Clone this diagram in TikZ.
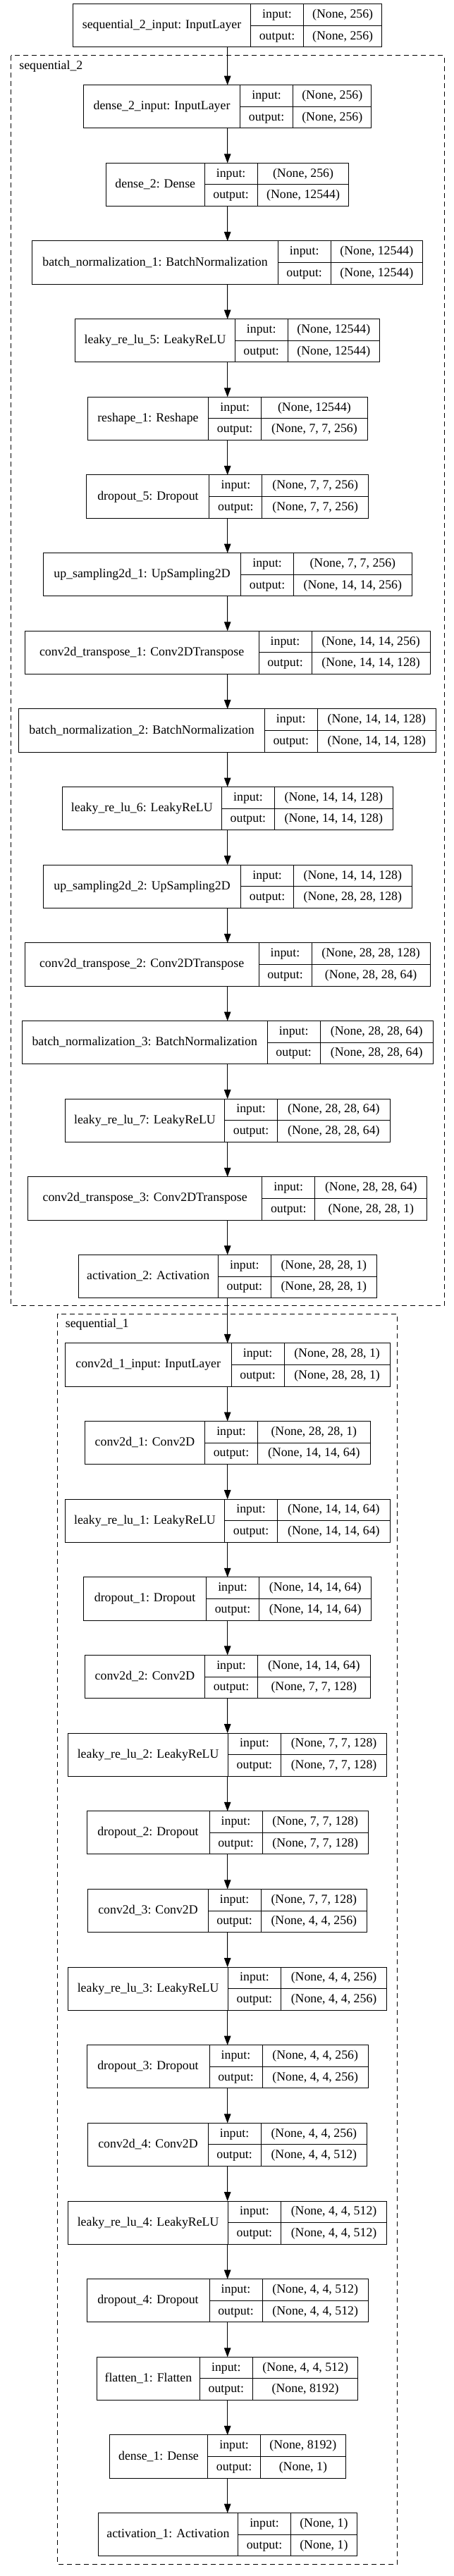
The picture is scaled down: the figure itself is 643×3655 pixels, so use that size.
\documentclass[tikz,border=0pt]{standalone}
\usepackage{fontspec}
\setmainfont{Liberation Serif}
\usetikzlibrary{arrows.meta,fit}

% one keras record: label | input:/output: | shapes
\newcommand\layerbox[8][49.45]{%
  \node[lf, minimum width=#4pt, anchor=north west] (#2-l)
    at ([xshift={-(#4+75+#5)/2}, yshift=-#1pt]#3.south) {#6};
  \node[io, anchor=north west] (#2-i) at (#2-l.north east) {input:};
  \node[io, anchor=north west] (#2-o) at (#2-i.south west) {output:};
  \node[vf, minimum width=#5pt, anchor=north west] (#2-iv) at (#2-i.north east) {#7};
  \node[vf, minimum width=#5pt, anchor=north west] (#2-ov) at (#2-o.north east) {#8};
  \node[fit=(#2-l)(#2-ov), inner sep=0pt, outer sep=0pt] (#2) {};
}

\begin{document}
\begin{tikzpicture}[x=1pt,y=-1pt,
    font=\fontsize{17.8}{20}\selectfont,
    cell/.style={draw,line width=1pt,outer sep=0pt,inner sep=0pt,
                 text height=12.5pt,text depth=3.5pt},
    lf/.style={cell,minimum height=61.2pt},
    io/.style={cell,minimum width=75pt,minimum height=30.6pt},
    vf/.style={cell,minimum height=30.6pt},
    arr/.style={line width=1pt,-{Triangle[length=13pt,width=9.5pt]}},
    clu/.style={line width=1pt,dash pattern=on 7pt off 5pt}]
  \useasboundingbox (0,0) rectangle (643,3655);

  % clusters
  \draw[clu] (15.7,78.7) rectangle (630,1852.7);
  \node[anchor=base west,inner sep=0pt] (seq2lab) at (27.2,99) {sequential\_2};
  \draw[clu] (81.6,1864) rectangle (563.5,3638.3);
  \node[anchor=base west,inner sep=0pt] (seq1lab) at (92.7,1883.5) {sequential\_1};

  \coordinate (start) at (322.7,5.7);
  \layerbox[0]{s2in}{start}{251.9}{111.3}{sequential\_2\_input: InputLayer}{(None, 256)}{(None, 256)}
  % generator
  \layerbox[53.8]{d2in}{s2in}{222.2}{111.3}{dense\_2\_input: InputLayer}{(None, 256)}{(None, 256)}
  \layerbox{dense2}{d2in}{139.7}{129.8}{dense\_2: Dense}{(None, 256)}{(None, 12544)}
  \layerbox{bn1}{dense2}{348.3}{130.3}{batch\_normalization\_1: BatchNormalization}{(None, 12544)}{(None, 12544)}
  \layerbox{lrelu5}{bn1}{226.3}{130.3}{leaky\_re\_lu\_5: LeakyReLU}{(None, 12544)}{(None, 12544)}
  \layerbox{resh1}{lrelu5}{171.5}{150.5}{reshape\_1: Reshape}{(None, 12544)}{(None, 7, 7, 256)}
  \layerbox{drop5}{resh1}{174.0}{150.5}{dropout\_5: Dropout}{(None, 7, 7, 256)}{(None, 7, 7, 256)}
  \layerbox{up1}{drop5}{280.3}{167.4}{up\_sampling2d\_1: UpSampling2D}{(None, 7, 7, 256)}{(None, 14, 14, 256)}
  \layerbox{ct1}{up1}{331.8}{168.2}{conv2d\_transpose\_1: Conv2DTranspose}{(None, 14, 14, 256)}{(None, 14, 14, 128)}
  \layerbox{bn2}{ct1}{348.3}{168.2}{batch\_normalization\_2: BatchNormalization}{(None, 14, 14, 128)}{(None, 14, 14, 128)}
  \layerbox{lrelu6}{bn2}{226.3}{167.8}{leaky\_re\_lu\_6: LeakyReLU}{(None, 14, 14, 128)}{(None, 14, 14, 128)}
  \layerbox{up2}{lrelu6}{280.3}{167.4}{up\_sampling2d\_2: UpSampling2D}{(None, 14, 14, 128)}{(None, 28, 28, 128)}
  \layerbox{ct2}{up2}{331.8}{168.2}{conv2d\_transpose\_2: Conv2DTranspose}{(None, 28, 28, 128)}{(None, 28, 28, 64)}
  \layerbox{bn3}{ct2}{348.0}{160.0}{batch\_normalization\_3: BatchNormalization}{(None, 28, 28, 64)}{(None, 28, 28, 64)}
  \layerbox{lrelu7}{bn3}{226.3}{159.5}{leaky\_re\_lu\_7: LeakyReLU}{(None, 28, 28, 64)}{(None, 28, 28, 64)}
  \layerbox{ct3}{lrelu7}{332.2}{159.1}{conv2d\_transpose\_3: Conv2DTranspose}{(None, 28, 28, 64)}{(None, 28, 28, 1)}
  \layerbox{act2}{ct3}{198.3}{150.0}{activation\_2: Activation}{(None, 28, 28, 1)}{(None, 28, 28, 1)}
  % discriminator
  \layerbox[64.2]{c1in}{act2}{235.8}{150.0}{conv2d\_1\_input: InputLayer}{(None, 28, 28, 1)}{(None, 28, 28, 1)}
  \layerbox{conv1}{c1in}{170.2}{159.5}{conv2d\_1: Conv2D}{(None, 28, 28, 1)}{(None, 14, 14, 64)}
  \layerbox{lrelu1}{conv1}{226.3}{159.5}{leaky\_re\_lu\_1: LeakyReLU}{(None, 14, 14, 64)}{(None, 14, 14, 64)}
  \layerbox{drop1}{lrelu1}{174.0}{159.3}{dropout\_1: Dropout}{(None, 14, 14, 64)}{(None, 14, 14, 64)}
  \layerbox{conv2}{drop1}{170.2}{159.5}{conv2d\_2: Conv2D}{(None, 14, 14, 64)}{(None, 7, 7, 128)}
  \layerbox{lrelu2}{conv2}{226.7}{150.2}{leaky\_re\_lu\_2: LeakyReLU}{(None, 7, 7, 128)}{(None, 7, 7, 128)}
  \layerbox{drop2}{lrelu2}{174.0}{150.4}{dropout\_2: Dropout}{(None, 7, 7, 128)}{(None, 7, 7, 128)}
  \layerbox{conv3}{drop2}{170.2}{150.4}{conv2d\_3: Conv2D}{(None, 7, 7, 128)}{(None, 4, 4, 256)}
  \layerbox{lrelu3}{conv3}{226.7}{150.2}{leaky\_re\_lu\_3: LeakyReLU}{(None, 4, 4, 256)}{(None, 4, 4, 256)}
  \layerbox{drop3}{lrelu3}{174.0}{150.4}{dropout\_3: Dropout}{(None, 4, 4, 256)}{(None, 4, 4, 256)}
  \layerbox{conv4}{drop3}{170.2}{150.4}{conv2d\_4: Conv2D}{(None, 4, 4, 256)}{(None, 4, 4, 512)}
  \layerbox{lrelu4}{conv4}{226.7}{150.2}{leaky\_re\_lu\_4: LeakyReLU}{(None, 4, 4, 512)}{(None, 4, 4, 512)}
  \layerbox{drop4}{lrelu4}{174.0}{150.4}{dropout\_4: Dropout}{(None, 4, 4, 512)}{(None, 4, 4, 512)}
  \layerbox{flat1}{drop4}{145.9}{149.6}{flatten\_1: Flatten}{(None, 4, 4, 512)}{(None, 8192)}
  \layerbox{dense1}{flat1}{139.3}{120.4}{dense\_1: Dense}{(None, 8192)}{(None, 1)}
  \layerbox{act1}{dense1}{198.3}{93.6}{activation\_1: Activation}{(None, 1)}{(None, 1)}

  \foreach \a/\b in {s2in/d2in,d2in/dense2,dense2/bn1,bn1/lrelu5,lrelu5/resh1,
      resh1/drop5,drop5/up1,up1/ct1,ct1/bn2,bn2/lrelu6,lrelu6/up2,up2/ct2,
      ct2/bn3,bn3/lrelu7,lrelu7/ct3,ct3/act2,act2/c1in,c1in/conv1,conv1/lrelu1,
      lrelu1/drop1,drop1/conv2,conv2/lrelu2,lrelu2/drop2,drop2/conv3,
      conv3/lrelu3,lrelu3/drop3,drop3/conv4,conv4/lrelu4,lrelu4/drop4,
      drop4/flat1,flat1/dense1,dense1/act1}
    \draw[arr] (\a.south) -- (\b.north);
\end{tikzpicture}
\end{document}
